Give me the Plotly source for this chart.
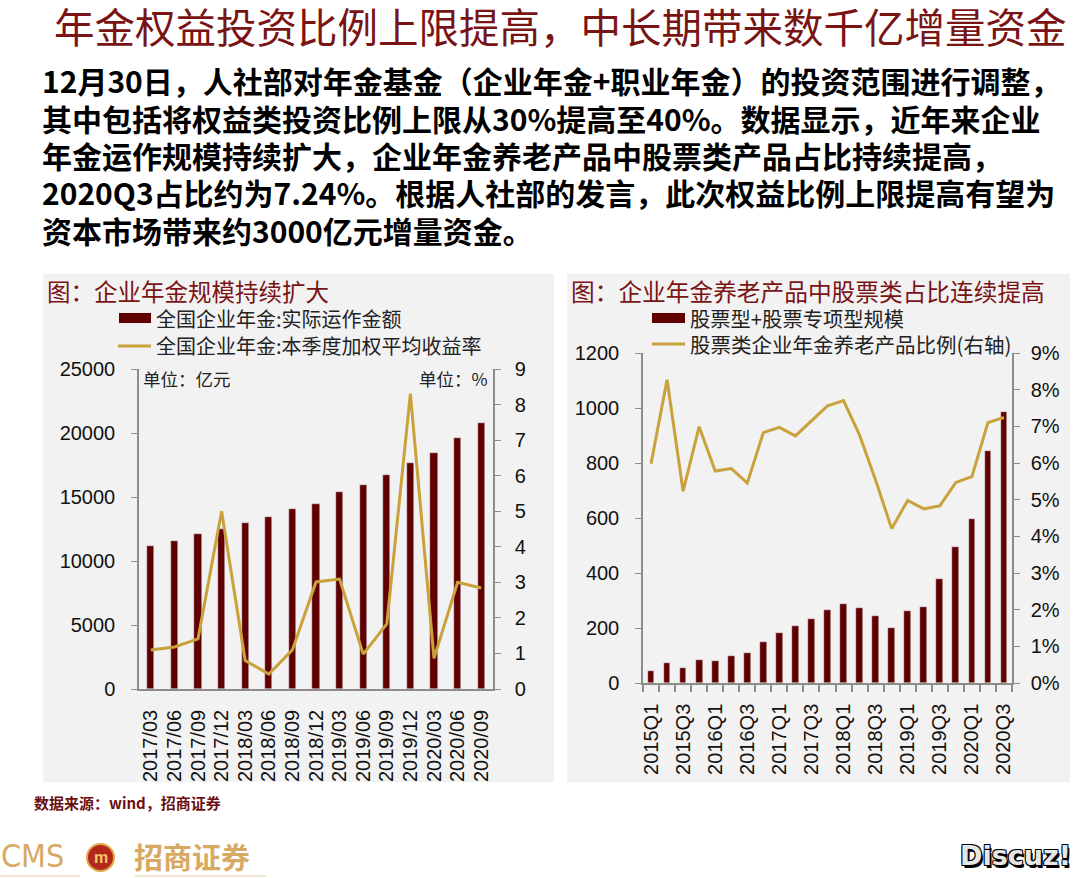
import plotly.graph_objects as go

# ---------------- data ----------------
left_dates = ["2017/03", "2017/06", "2017/09", "2017/12", "2018/03", "2018/06", "2018/09",
              "2018/12", "2019/03", "2019/06", "2019/09", "2019/12", "2020/03", "2020/06", "2020/09"]
left_scale = [11150, 11600, 12100, 12500, 12970, 13460, 14040, 14480, 15390, 15960, 16740,
              17680, 18440, 19600, 20760]
left_yield = [1.10, 1.18, 1.41, 5.00, 0.80, 0.42, 1.10, 3.01, 3.09, 0.98, 1.83, 8.31, 0.86, 3.00, 2.84]

right_quarters = ["2015Q1", "2015Q2", "2015Q3", "2015Q4", "2016Q1", "2016Q2", "2016Q3", "2016Q4",
                  "2017Q1", "2017Q2", "2017Q3", "2017Q4", "2018Q1", "2018Q2", "2018Q3", "2018Q4",
                  "2019Q1", "2019Q2", "2019Q3", "2019Q4", "2020Q1", "2020Q2", "2020Q3"]
right_scale = [45, 74, 55, 82, 79, 97, 108, 150, 182, 207, 234, 264, 287, 274, 245, 201,
               263, 275, 379, 496, 598, 844, 984]
right_ratio = [5.98, 8.27, 5.23, 6.99, 5.78, 5.85, 5.45, 6.83, 6.97, 6.74, 7.15, 7.56, 7.70,
               6.76, 5.53, 4.21, 4.98, 4.75, 4.83, 5.47, 5.63, 7.10, 7.24]

left_y_ticks = [0, 5000, 10000, 15000, 20000, 25000]
left_y2_ticks = list(range(0, 10))
right_y_ticks = [0, 200, 400, 600, 800, 1000, 1200]
right_y2_ticks = list(range(0, 10))
right_y2_labels = [f"{v}%" for v in right_y2_ticks]

title_text = "年金权益投资比例上限提高，中长期带来数千亿增量资金"
para_lines = [
    "12月30日，人社部对年金基金（企业年金+职业年金）的投资范围进行调整，",
    "其中包括将权益类投资比例上限从30%提高至40%。数据显示，近年来企业",
    "年金运作规模持续扩大，企业年金养老产品中股票类产品占比持续提高，",
    "2020Q3占比约为7.24%。根据人社部的发言，此次权益比例上限提高有望为",
    "资本市场带来约3000亿元增量资金。",
]

# ---------------- style ----------------
W, H = 1080, 878
BAR = "#600000"
LINE = "#c9a23c"
AXIS = "#8c8c8c"
PANEL = "#f2f2f2"
DARKRED = "#7a1414"
CJK = "Noto Sans CJK SC"
LAT = "Liberation Sans, Arial"


def px(x):
    return x / W


def py(y):
    return 1 - y / H


fig = go.Figure()

# left chart
fig.add_trace(go.Bar(x=left_dates, y=left_scale, marker_color=BAR, width=0.31,
                     xaxis="x", yaxis="y", showlegend=False))
fig.add_trace(go.Scatter(x=left_dates, y=left_yield, mode="lines", line=dict(color=LINE, width=3),
                         xaxis="x", yaxis="y2", showlegend=False))
# right chart
ridx = list(range(len(right_quarters)))
fig.add_trace(go.Bar(x=ridx, y=right_scale, marker_color=BAR, width=0.42,
                     xaxis="x2", yaxis="y3", showlegend=False))
fig.add_trace(go.Scatter(x=ridx, y=right_ratio, mode="lines", line=dict(color=LINE, width=3),
                         xaxis="x2", yaxis="y4", showlegend=False))

tickfont = dict(family=LAT, size=20, color="#111")

axis_common = dict(showgrid=False, zeroline=False, showline=True, linecolor=AXIS, linewidth=1.5,
                   tickfont=tickfont, fixedrange=True, automargin=False)

fig.update_layout(
    width=W, height=H, margin=dict(l=0, r=0, t=0, b=0, pad=0, autoexpand=False),
    paper_bgcolor="white", plot_bgcolor="rgba(0,0,0,0)",
    bargap=0,
    xaxis=dict(**axis_common, domain=[px(139), px(493)], anchor="y", type="category",
               tickmode="linear", dtick=1, tickangle=-90, ticks="", ticklabelstandoff=11),
    yaxis=dict(**axis_common, domain=[py(689), py(369)], anchor="x", range=[0, 25000],
               tickvals=left_y_ticks, tickformat="d", ticks="outside", ticklen=6, tickcolor=AXIS,
               ticklabelstandoff=12),
    yaxis2=dict(**axis_common, overlaying="y", side="right", anchor="x", range=[0, 9],
                tickvals=left_y2_ticks, ticks="outside", ticklen=6, tickcolor=AXIS,
                ticklabelstandoff=10),
    xaxis2=dict(**axis_common, domain=[px(643), px(1012)], anchor="y3", range=[-0.5, len(ridx) - 0.5],
                tickvals=ridx[::2], ticktext=right_quarters[::2], tickangle=-90, ticks="",
                ticklabelstandoff=11,
                minor=dict(tickvals=[i - 0.5 for i in range(len(ridx) + 1)], ticks="outside",
                           ticklen=7, tickcolor=AXIS, tickwidth=1.5)),
    yaxis3=dict(**axis_common, domain=[py(683), py(353)], anchor="x2", range=[0, 1200],
                tickvals=right_y_ticks, tickformat="d", ticks="outside", ticklen=6, tickcolor=AXIS,
                ticklabelstandoff=12),
    yaxis4=dict(**axis_common, overlaying="y3", side="right", anchor="x2", range=[0, 9],
                tickmode="array", tickvals=right_y2_ticks, ticktext=right_y2_labels,
                ticks="outside", ticklen=6, tickcolor=AXIS, ticklabelstandoff=7),
)

shapes = [
    dict(type="rect", xref="paper", yref="paper", x0=px(43), x1=px(554), y0=py(782), y1=py(274),
         fillcolor=PANEL, line=dict(width=0), layer="below"),
    dict(type="rect", xref="paper", yref="paper", x0=px(567), x1=px(1070), y0=py(782), y1=py(274),
         fillcolor=PANEL, line=dict(width=0), layer="below"),
    # left legend
    dict(type="rect", xref="paper", yref="paper", x0=px(119), x1=px(151), y0=py(323), y1=py(313),
         fillcolor=BAR, line=dict(width=0)),
    dict(type="line", xref="paper", yref="paper", x0=px(118), x1=px(151), y0=py(346), y1=py(346),
         line=dict(color=LINE, width=3)),
    # right legend
    dict(type="rect", xref="paper", yref="paper", x0=px(652), x1=px(685), y0=py(323), y1=py(313),
         fillcolor=BAR, line=dict(width=0)),
    dict(type="line", xref="paper", yref="paper", x0=px(652), x1=px(685), y0=py(344), y1=py(344),
         line=dict(color=LINE, width=3)),
    # logo circle
    dict(type="circle", xref="paper", yref="paper", x0=px(87), x1=px(114), y0=py(871), y1=py(844),
         fillcolor="#b5271c", line=dict(color="#e0a94a", width=2)),
    dict(type="line", xref="paper", yref="paper", x0=px(0), x1=px(80), y0=py(876), y1=py(876),
         line=dict(color="#e6cfa6", width=1)),
    dict(type="line", xref="paper", yref="paper", x0=px(135), x1=px(266), y0=py(876), y1=py(876),
         line=dict(color="#e6cfa6", width=1)),
]
fig.update_layout(shapes=shapes)

ann = []


def text(x, y, s, size, color="#000", family=CJK, xanchor="left", weight="normal", **kw):
    ann.append(dict(x=px(x), y=py(y), xref="paper", yref="paper", text=s, showarrow=False,
                    xanchor=xanchor, yanchor="middle", borderpad=0,
                    font=dict(family=family, size=size, color=color, weight=weight, **kw)))


text(53, 26, title_text, 40.5, color=DARKRED)
for i, line in enumerate(para_lines):
    text(41, 80 + i * 37.5, line, 30, color="#000", weight="bold")

text(46, 291, "图：企业年金规模持续扩大", 23.5, color=DARKRED)
text(570, 291, "图：企业年金养老产品中股票类占比连续提高", 23.7, color=DARKRED)

text(155, 318, "全国企业年金:实际运作金额", 20, color="#222")
text(155, 346, "全国企业年金:本季度加权平均收益率", 20, color="#222")
text(689, 318, "股票型+股票专项型规模", 20.3, color="#222")
text(689, 344, "股票类企业年金养老产品比例(右轴)", 20.5, color="#222")

text(142, 378, "单位：亿元", 17.5, color="#222")
text(489, 378, "单位：%", 17.5, color="#222", xanchor="right")

text(33, 802, "数据来源：wind，招商证券", 15, color="#6b0f0f", weight="bold")

text(0, 856, "CMS", 32, color="#d7a962", family="DejaVu Sans Condensed, Liberation Sans")
text(100.5, 857, "m", 16, color="#f4c96a", family=LAT, xanchor="center", weight="bold")
text(133, 856, "招商证券", 29, color="#d7a962", weight="bold")
text(1015, 855, "Discuz!", 27, color="#e6e6e6", family="DejaVu Sans", xanchor="center",
     weight="bold", shadow="1px 1px 0 #000, -1px -1px 0 #000, 1px -1px 0 #000, -1px 1px 0 #000, 2px 3px 0 #000")

fig.update_layout(annotations=ann)

fig.write_html("out.html", config={"displayModeBar": False},
               post_script="document.body.style.margin='0px';document.body.style.overflow='hidden';")
